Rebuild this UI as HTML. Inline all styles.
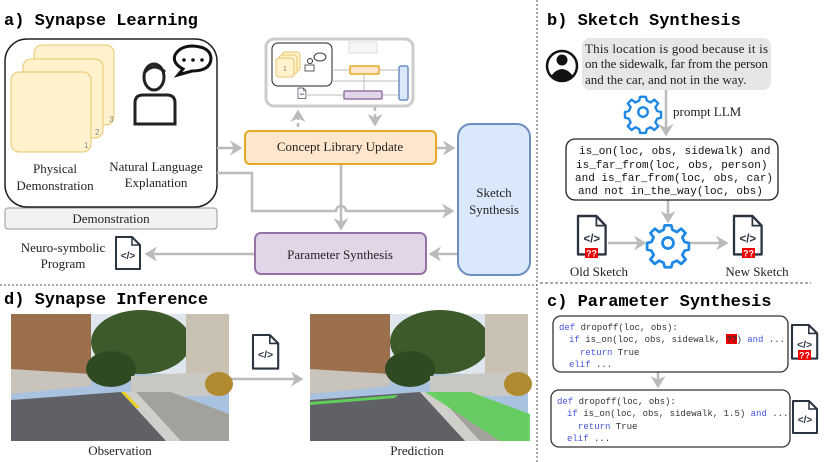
<!DOCTYPE html>
<html><head><meta charset="utf-8"><style>
html,body{margin:0;padding:0;background:#fff;}
svg{display:block;}
.t{font-family:"Liberation Mono",monospace;font-weight:bold;font-size:17px;fill:#000;}
.s{font-family:"Liberation Serif",serif;font-size:13px;fill:#222;}
.m{font-family:"Liberation Mono",monospace;font-size:11px;fill:#111;}
.c{font-family:"Liberation Mono",monospace;font-size:9px;fill:#333;}
.k{fill:#4455dd;}
</style></head><body>
<svg width="830" height="462" viewBox="0 0 830 462" xmlns="http://www.w3.org/2000/svg">
<defs>
<marker id="ah" markerWidth="6" markerHeight="6" refX="4" refY="3" orient="auto" markerUnits="strokeWidth"><path d="M0,0 L5,3 L0,6 L1.5,3z" fill="#bbb"/></marker>
<g id="doc"><path d="M0,0 H16 L24,8 V32 H0Z" fill="#fff" stroke="#2b3441" stroke-width="2" stroke-linejoin="round"/><path d="M16,0 V8 H24" fill="none" stroke="#2b3441" stroke-width="1.5"/><text x="12" y="22" text-anchor="middle" font-family="Liberation Sans,sans-serif" font-weight="bold" font-size="10" fill="#2b3441">&lt;/&gt;</text></g>
<g id="gear"><path d="M-3,-16 h6 l1,4 l4,2 l4,-3 l4,4 l-3,4 l2,4 l4,1 v6 l-4,1 l-2,4 l3,4 l-4,4 l-4,-3 l-4,2 l-1,4 h-6 l-1,-4 l-4,-2 l-4,3 l-4,-4 l3,-4 l-2,-4 l-4,-1 v-6 l4,-1 l2,-4 l-3,-4 l4,-4 l4,3 l4,-2z" fill="none" stroke="#1e88e5" stroke-width="2.5" stroke-linejoin="round"/><circle r="5" fill="none" stroke="#1e88e5" stroke-width="2.5"/></g>
<g id="qq"><rect width="13" height="10" fill="#e00"/><text x="6.5" y="8.5" text-anchor="middle" font-family="Liberation Sans,sans-serif" font-weight="bold" font-size="9" fill="#fff">??</text></g>
<g id="photo">
<rect x="0" y="0" width="218" height="127" fill="#a9c2e0"/>
<rect x="80" y="0" width="138" height="60" fill="#dfe6ee"/>
<polygon points="0,0 80,0 80,70 0,80" fill="#9b6e4c"/>
<polygon points="0,55 80,60 80,72 0,80" fill="#c8c4bc"/>
<ellipse cx="130" cy="28" rx="50" ry="32" fill="#3d5a2a"/>
<ellipse cx="100" cy="55" rx="25" ry="18" fill="#2f4a22"/>
<rect x="175" y="0" width="43" height="65" fill="#c9c2b2"/>
<polygon points="120,62 200,58 205,82 120,82" fill="#c9c8c2"/>
<ellipse cx="208" cy="70" rx="14" ry="12" fill="#b08a30"/>
<polygon points="0,86 110,78 160,127 0,127" fill="#5f6167"/>
<polygon points="110,78 160,78 218,100 218,127 160,127" fill="#a3a19c"/>
<polygon points="110,78 125,78 170,127 155,127" fill="#d0cfcb"/>
</g>
</defs>

<line x1="537" y1="0" x2="537" y2="462" stroke="#555" stroke-width="1" stroke-dasharray="2,2"/>
<line x1="0" y1="285" x2="537" y2="285" stroke="#555" stroke-width="1" stroke-dasharray="2,2"/>
<line x1="540" y1="283" x2="811" y2="283" stroke="#555" stroke-width="1" stroke-dasharray="3,2"/>

<text class="t" x="4" y="25">a) Synapse Learning</text>
<rect x="5" y="208" width="212" height="21" rx="3" fill="#f2f2f2" stroke="#999"/>
<text class="s" x="111" y="223" text-anchor="middle" fill="#444">Demonstration</text>
<rect x="5" y="39" width="212" height="168" rx="22" fill="#fff" stroke="#222" stroke-width="1.5"/>
<rect x="34" y="45" width="80" height="80" rx="8" fill="#fff2cc" stroke="#e8c66a"/>
<rect x="23" y="59" width="80" height="79" rx="8" fill="#fff2cc" stroke="#e8c66a"/>
<rect x="11" y="72" width="80" height="80" rx="8" fill="#fff2cc" stroke="#e8c66a"/>
<text x="109" y="122" font-family="Liberation Sans,sans-serif" font-size="8" fill="#888">3</text>
<text x="95" y="135" font-family="Liberation Sans,sans-serif" font-size="8" fill="#888">2</text>
<text x="84" y="148" font-family="Liberation Sans,sans-serif" font-size="8" fill="#888">1</text>
<ellipse cx="154" cy="77" rx="10" ry="13" fill="none" stroke="#222" stroke-width="3"/>
<path d="M145,72 Q154,62 165,72" fill="none" stroke="#222" stroke-width="3"/>
<path d="M135,124 V103 Q135,95 143,95 H167 Q175,95 175,103 V124Z" fill="none" stroke="#222" stroke-width="3"/>
<path d="M178,75 L183,69 Q172,63 175,55 Q180,46 193,46 Q211,47 211,59 Q210,71 192,71 Z" fill="#fff" stroke="#111" stroke-width="3"/>
<circle cx="184" cy="60" r="1.8" fill="#111"/><circle cx="193" cy="60" r="1.8" fill="#111"/><circle cx="202" cy="60" r="1.8" fill="#111"/>
<text class="s" x="55" y="173" text-anchor="middle">Physical</text>
<text class="s" x="55" y="190" text-anchor="middle">Demonstration</text>
<text class="s" x="156" y="171" text-anchor="middle">Natural Language</text>
<text class="s" x="156" y="187" text-anchor="middle">Explanation</text>

<rect x="266" y="39" width="147" height="67" rx="8" fill="#fff" stroke="#ccc" stroke-width="3"/>
<rect x="272" y="43" width="60" height="43" rx="6" fill="#fff" stroke="#222" stroke-width="1"/>
<rect x="282" y="52" width="18" height="19" rx="3" fill="#fff2cc" stroke="#e8c66a"/>
<rect x="279" y="55" width="18" height="19" rx="3" fill="#fff2cc" stroke="#e8c66a"/>
<rect x="276" y="58" width="18" height="19" rx="3" fill="#fff2cc" stroke="#e8c66a"/>
<text x="283" y="71" font-family="Liberation Sans,sans-serif" font-size="7" fill="#888">1</text>
<circle cx="310" cy="61" r="2.5" fill="none" stroke="#333"/><rect x="305" y="65" width="9" height="6" fill="none" stroke="#333" stroke-width="0.8"/>
<ellipse cx="320" cy="57" rx="6" ry="4" fill="#fff" stroke="#333"/>
<rect x="350" y="66" width="29" height="8" rx="1" fill="#ffe6cc" stroke="#e6a820" stroke-width="1.5"/>
<rect x="344" y="91" width="38" height="8" rx="1" fill="#e1d5e7" stroke="#9673a6" stroke-width="1.5"/>
<rect x="399" y="66" width="9" height="34" rx="2" fill="#dae8fc" stroke="#6c8ebf" stroke-width="1.5"/>
<rect x="349" y="42" width="28" height="11" fill="#f6f6f6" stroke="#ddd"/>
<g stroke="#bbb" stroke-width="1" fill="none">
<line x1="332" y1="70" x2="349" y2="70"/><line x1="379" y1="70" x2="398" y2="70"/>
<line x1="332" y1="81" x2="398" y2="81"/><line x1="398" y1="95" x2="383" y2="95"/>
<line x1="343" y1="95" x2="307" y2="95"/><line x1="364" y1="74" x2="364" y2="90"/>
</g>
<use href="#doc" transform="translate(298,88) scale(0.33)"/>

<g stroke="#bbb" stroke-width="2.5" fill="none">
<line x1="298" y1="127" x2="298" y2="112" stroke-dasharray="4,3" marker-end="url(#ah)"/>
<line x1="375" y1="107" x2="375" y2="124" stroke-dasharray="4,3" marker-end="url(#ah)"/>
<line x1="217" y1="148" x2="240" y2="148" marker-end="url(#ah)"/>
<line x1="436" y1="148" x2="453" y2="148" marker-end="url(#ah)"/>
<path d="M217,173 H252 V211 H336 A5,5 0 0 1 346,211 H452" marker-end="url(#ah)"/>
<line x1="341" y1="164" x2="341" y2="228" marker-end="url(#ah)"/>
<line x1="458" y1="254" x2="431" y2="254" marker-end="url(#ah)"/>
<line x1="255" y1="254" x2="147" y2="254" marker-end="url(#ah)"/>
</g>
<rect x="245" y="131" width="191" height="33" rx="5" fill="#ffe6cc" stroke="#e6a820" stroke-width="2"/>
<text class="s" x="340" y="151" text-anchor="middle" font-size="13.5">Concept Library Update</text>
<rect x="458" y="124" width="72" height="151" rx="13" fill="#dae8fc" stroke="#6c8ebf" stroke-width="2"/>
<text class="s" x="494" y="197" text-anchor="middle">Sketch</text>
<text class="s" x="494" y="214" text-anchor="middle">Synthesis</text>
<rect x="255" y="233" width="171" height="41" rx="6" fill="#e1d5e7" stroke="#9673a6" stroke-width="2"/>
<text class="s" x="340" y="259" text-anchor="middle" font-size="13.5">Parameter Synthesis</text>
<use href="#doc" transform="translate(116,237)"/>
<text class="s" x="63" y="252" text-anchor="middle">Neuro-symbolic</text>
<text class="s" x="63" y="268" text-anchor="middle">Program</text>

<text class="t" x="547" y="25">b) Sketch Synthesis</text>
<circle cx="562" cy="66" r="15" fill="#fff" stroke="#111" stroke-width="2.5"/>
<circle cx="562" cy="60" r="5.5" fill="#111"/>
<path d="M551,76 Q562,62 573,76 Q562,84 551,76Z" fill="#111"/>
<rect x="582" y="38" width="189" height="52" rx="8" fill="#e6e6e6"/>
<text class="s" x="585" y="53" textLength="183" lengthAdjust="spacing">This location is good because it is</text>
<text class="s" x="585" y="68" textLength="183" lengthAdjust="spacing">on the sidewalk, far from the person</text>
<text class="s" x="585" y="84">and the car, and not in the way.</text>
<g stroke="#bbb" stroke-width="2.5" fill="none">
<line x1="666" y1="90" x2="666" y2="134" marker-end="url(#ah)"/>
<line x1="668" y1="200" x2="668" y2="221" marker-end="url(#ah)"/>
<line x1="608" y1="243" x2="644" y2="243" marker-end="url(#ah)"/>
<line x1="689" y1="243" x2="726" y2="243" marker-end="url(#ah)"/>
<line x1="658" y1="372" x2="658" y2="386" marker-end="url(#ah)"/>
<line x1="228" y1="379" x2="301" y2="379" marker-end="url(#ah)"/>
</g>
<use href="#gear" transform="translate(643,112) scale(0.95)"/>
<text class="s" x="673" y="116" font-size="13.5">prompt LLM</text>
<rect x="566" y="139" width="212" height="61" rx="9" fill="#fff" stroke="#222" stroke-width="1.3"/>
<text class="m" x="579" y="154">is_on(loc, obs, sidewalk) and</text>
<text class="m" x="576" y="168">is_far_from(loc, obs, person)</text>
<text class="m" x="575" y="181">and is_far_from(loc, obs, car)</text>
<text class="m" x="578" y="194">and not in_the_way(loc, obs)</text>
<use href="#gear" transform="translate(668,243) scale(1.1)"/>
<use href="#doc" transform="translate(578,216) scale(1.15,1.2)"/>
<use href="#qq" transform="translate(585,248)"/>
<use href="#doc" transform="translate(734,216) scale(1.15,1.2)"/>
<use href="#qq" transform="translate(742,248)"/>
<text class="s" x="599" y="276" text-anchor="middle" font-size="13.5">Old Sketch</text>
<text class="s" x="757" y="276" text-anchor="middle" font-size="13.5">New Sketch</text>

<text class="t" x="547" y="306">c) Parameter Synthesis</text>
<rect x="553" y="316" width="235" height="56" rx="8" fill="#fff" stroke="#333" stroke-width="1.3"/>
<text class="c" x="559" y="330"><tspan class="k">def</tspan> dropoff(loc, obs):</text>
<text class="c" x="569" y="342" xml:space="preserve"><tspan class="k">if</tspan> is_on(loc, obs, sidewalk,   ) <tspan class="k">and</tspan> ...</text>
<rect x="726" y="334" width="11" height="10" fill="#e00"/>
<text class="c" x="726.5" y="342" fill="#fff" font-weight="bold">??</text>
<text class="c" x="580" y="355"><tspan class="k">return</tspan> True</text>
<text class="c" x="569" y="367"><tspan class="k">elif</tspan> ...</text>
<use href="#doc" transform="translate(792,325) scale(1.05,1.05)"/>
<use href="#qq" transform="translate(798,350)"/>
<rect x="551" y="390" width="239" height="57" rx="8" fill="#fff" stroke="#333" stroke-width="1.3"/>
<text class="c" x="557" y="404"><tspan class="k">def</tspan> dropoff(loc, obs):</text>
<text class="c" x="567" y="416"><tspan class="k">if</tspan> is_on(loc, obs, sidewalk, 1.5) <tspan class="k">and</tspan> ...</text>
<text class="c" x="578" y="429"><tspan class="k">return</tspan> True</text>
<text class="c" x="567" y="441"><tspan class="k">elif</tspan> ...</text>
<use href="#doc" transform="translate(793,401) scale(1.0,1.0)"/>

<text class="t" x="4" y="304">d) Synapse Inference</text>
<use href="#photo" transform="translate(11,314)"/>
<polygon points="121,392 125,392 140,408 136,408" fill="#e8d020"/>
<use href="#photo" transform="translate(310,314)"/>
<polygon points="425,392 470,392 530,414 530,441 500,441" fill="#5fcf5a" opacity="0.9"/>
<polygon points="310,402 398,395 395,398 310,405" fill="#5fcf5a"/>
<use href="#doc" transform="translate(253,335) scale(1.05,1.05)"/>
<text class="s" x="120" y="455" text-anchor="middle" font-size="13.5">Observation</text>
<text class="s" x="417" y="455" text-anchor="middle" font-size="13.5">Prediction</text>
</svg>
</body></html>
